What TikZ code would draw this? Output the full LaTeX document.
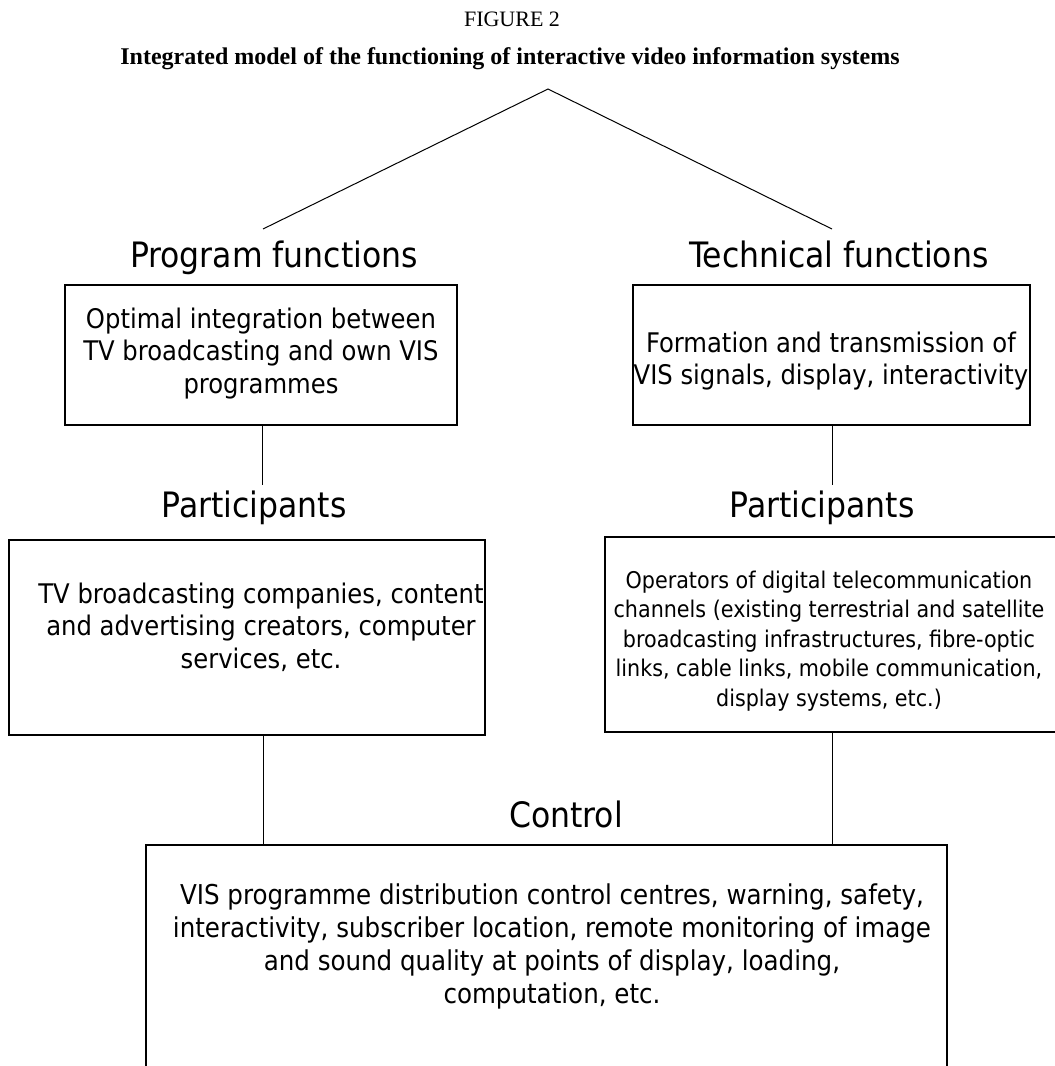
\documentclass[tikz,border=0pt]{standalone}
\usepackage{fontspec}
\setmainfont{Liberation Serif}
\newfontfamily\sansc{DejaVu Sans Condensed}
\tikzset{
  boxshape/.style={draw=black, line width=1.1pt, minimum width=#1, inner sep=0pt},
  boxtext/.style={font=\sansc\fontsize{27}{32.5}\selectfont, align=center, inner sep=0pt},
  bigtext/.style={font=\sansc\fontsize{27.3}{32.8}\selectfont, align=center, inner sep=0pt},
  smalltext/.style={font=\sansc\fontsize{23}{29.5}\selectfont, align=center, inner sep=0pt},
  headtext/.style={font=\sansc\fontsize{35}{41}\selectfont, inner sep=0pt, anchor=base},
  conn/.style={draw=black, line width=1pt}
}
\begin{document}
\begin{tikzpicture}[x=1pt,y=-1pt]
\useasboundingbox (0,0) rectangle (1055,1066);
% titles
\node[font=\fontsize{22}{26}\selectfont, anchor=base, inner sep=0pt] (fig) at (512,26) {FIGURE 2};
\node[font=\bfseries\fontsize{24}{28}\selectfont, anchor=base, inner sep=0pt] (title) at (510,64) {Integrated model of the functioning of interactive video information systems};
% apex
\coordinate (apex) at (548,89);
% headings
\node[headtext] (pf) at (274,267) {Program functions};
\node[headtext] (tf) at (839,267) {Technical functions};
\coordinate (pfend) at (263,229);
\coordinate (tfend) at (832,229);
\draw[conn] (pfend) -- (apex) -- (tfend);
% top boxes
\node[boxshape=392pt, minimum height=140pt] (box1) at (261,355) {};
\node[boxtext] (t1) at (261,353.5) {Optimal integration between\\TV broadcasting and own VIS\\programmes};
\node[boxshape=397pt, minimum height=140pt] (box2) at (831.5,355) {};
\node[boxtext] (t2) at (831,361) {Formation and transmission of\\VIS signals, display, interactivity};
% participants headings
\node[headtext] (pl) at (254,517) {Participants};
\node[headtext] (pr) at (822,517) {Participants};
\coordinate (plend) at (262,485);
\coordinate (prend) at (832,485);
\draw[conn] (box1.south -| plend) -- (plend);
\draw[conn] (box2.south -| prend) -- (prend);
% middle boxes
\node[boxshape=476pt, minimum height=195pt] (box3) at (247,637.5) {};
\node[boxtext] (t3) at (261,627) {TV broadcasting companies, content\\and advertising creators, computer\\services, etc.};
\node[boxshape=451pt, minimum height=195pt] (box4) at (830.5,634.5) {};
\node[smalltext] (t4) at (829,641) {Operators of digital telecommunication\\channels (existing terrestrial and satellite\\broadcasting infrastructures, fibre-optic\\links, cable links, mobile communication,\\display systems, etc.)};
% control
\node[headtext] (ctrl) at (566,827) {Control};
\node[boxshape=801pt, minimum height=225pt] (box5) at (546.5,957.5) {};
\node[bigtext] (t5) at (552,946.5) {VIS programme distribution control centres, warning, safety,\\interactivity, subscriber location, remote monitoring of image\\and sound quality at points of display, loading,\\computation, etc.};
\coordinate (cl) at (263,0);
\coordinate (cr) at (832,0);
\draw[conn] (box3.south -| cl) -- (box5.north -| cl);
\draw[conn] (box4.south -| cr) -- (box5.north -| cr);
\end{tikzpicture}
\end{document}
